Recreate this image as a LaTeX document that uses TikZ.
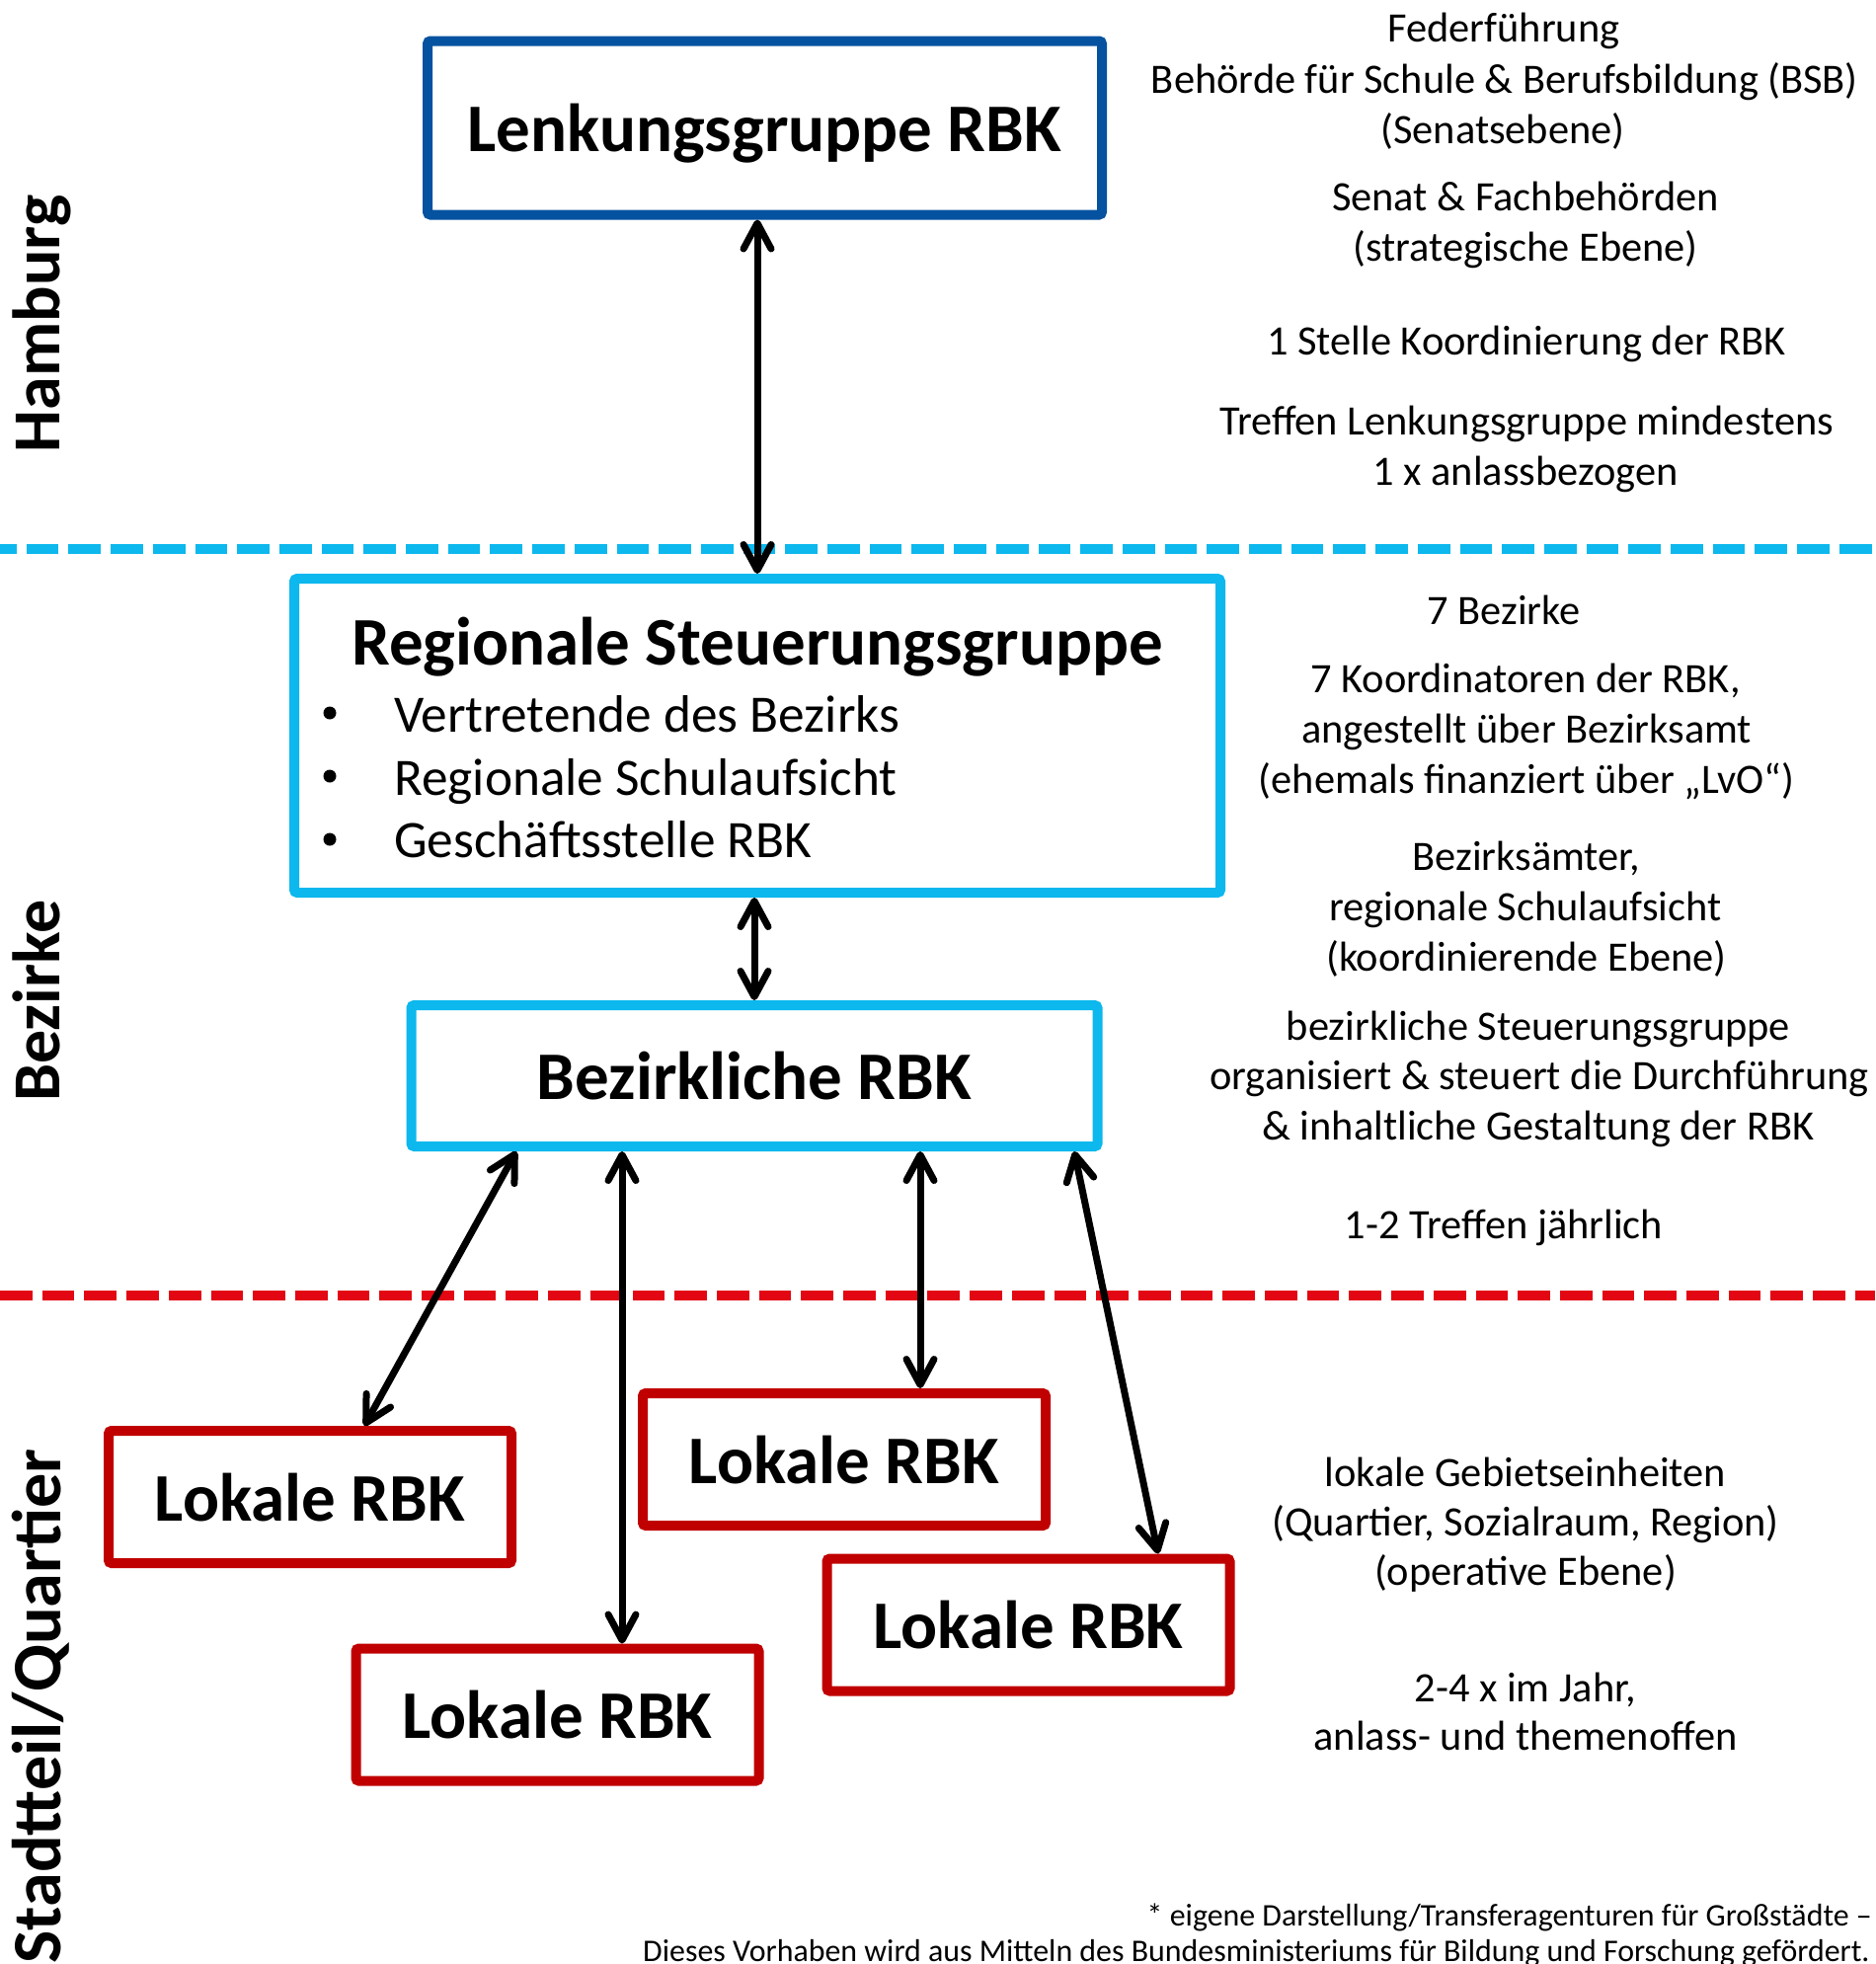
\documentclass[tikz,border=0pt]{standalone}
\usepackage{fontspec}
\setmainfont{Carlito}
\usetikzlibrary{arrows.meta,calc}
\definecolor{lgblue}{RGB}{4,82,160}
\definecolor{ltblue}{RGB}{12,184,237}
\definecolor{boxred}{RGB}{192,0,0}
\definecolor{linered}{RGB}{227,6,19}
\begin{document}
\begin{tikzpicture}[x=1pt,y=-1pt,
  box/.style={draw, line width=10pt, fill=white, inner sep=0pt, rounded corners=3pt,
    text depth=0pt, font=\fontsize{69}{80}\selectfont\bfseries},
  lbox/.style={box, draw=boxred, minimum width=408pt, minimum height=134pt},
  sepline/.style={line width=10.5pt, dash pattern=on 32.7pt off 10pt},
  arr/.style={line width=7pt, line cap=round,
    {Straight Barb[length=26pt,width=28pt,round]}-{Straight Barb[length=26pt,width=28pt,round]}},
  side/.style={font=\fontsize{42.4}{51}\selectfont, anchor=base, inner sep=0pt},
  bul/.style={font=\fontsize{53.3}{63}\selectfont, anchor=base west, inner sep=0pt},
  dot/.style={circle, fill=black, inner sep=0pt, minimum size=13pt},
  lvl/.style={font=\fontsize{68}{80}\selectfont\bfseries, rotate=90, inner sep=0pt},
  foot/.style={font=\fontsize{31.9}{38}\selectfont, anchor=base east, inner sep=0pt}
]
\useasboundingbox (0,0) rectangle (1899,1989);
\fill[white] (0,0) rectangle (1899,1989);

% level separators
\draw[sepline, ltblue, dash phase=16pt] (0,556) -- (1899,556);
\draw[sepline, linered] (0,1312) -- (1899,1312);

% boxes
\node[box, draw=lgblue, minimum width=683pt, minimum height=176pt] (LG) at (774.5,129.5) {Lenkungsgruppe RBK};
\node[box, draw=ltblue, minimum width=938pt, minimum height=318pt] (RS) at (767,745) {};
\node[font=\fontsize{69}{80}\selectfont\bfseries, anchor=base, inner sep=0pt] (RStitle) at (767,673) {Regionale Steuerungsgruppe};
\node[dot] (d1) at (334,722) {};
\node[dot] (d2) at (334,786) {};
\node[dot] (d3) at (334,850) {};
\node[bul] (b1) at (399,741) {Vertretende des Bezirks};
\node[bul] (b2) at (399,805) {Regionale Schulaufsicht};
\node[bul] (b3) at (399,868) {Geschäftsstelle RBK};
\node[box, draw=ltblue, minimum width=695pt, minimum height=143pt] (BZ) at (764,1089.5) {Bezirkliche RBK};
\node[lbox] (L1) at (314,1516) {Lokale RBK};
\node[lbox] (L2) at (855,1478) {Lokale RBK};
\node[lbox] (L3) at (564.5,1736.5) {Lokale RBK};
\node[lbox] (L4) at (1041.5,1645.5) {Lokale RBK};

% connectors
\draw[arr] (RS.north |- LG.south) -- (RS.north);
\draw[arr] (RS.south -| BZ.north) -- (BZ.north);
\draw[arr] ([xshift=-241pt]BZ.south) -- ([xshift=55pt]L1.north);
\draw[arr] ([xshift=-134pt]BZ.south) -- ([xshift=65.5pt]L3.north);
\draw[arr] ([xshift=168pt]BZ.south) -- ([xshift=77pt]L2.north);
\draw[arr] ([xshift=324pt]BZ.south) -- ([xshift=131.5pt]L4.north);

% level labels
\node[lvl, anchor=base] (hh) at (60,328) {Hamburg};
\node[lvl, anchor=base] (bzl) at (60,1013.5) {Bezirke};
\node[lvl, anchor=base east, font=\fontsize{70.2}{82}\selectfont\bfseries] (stq) at (61,1467) {Stadtteil/Quartier};

% right-hand descriptions
\node[side] (r1) at (1523,42) {Federführung};
\node[side] (r2) at (1524,94) {Behörde für Schule \& Berufsbildung (BSB)};
\node[side] (r3) at (1522,145) {(Senatsebene)};
\node[side] (r4) at (1545,213) {Senat \& Fachbehörden};
\node[side] (r5) at (1545,264) {(strategische Ebene)};
\node[side] (r6) at (1546,359) {1 Stelle Koordinierung der RBK};
\node[side] (r7) at (1546,440) {Treffen Lenkungsgruppe mindestens};
\node[side] (r8) at (1545,491) {1 x anlassbezogen};
\node[side] (r9) at (1523,632) {7 Bezirke};
\node[side] (r10) at (1545,701) {7 Koordinatoren der RBK,};
\node[side] (r11) at (1546,752) {angestellt über Bezirksamt};
\node[side] (r12) at (1546,803) {(ehemals finanziert über „LvO“)};
\node[side] (r13) at (1546,881) {Bezirksämter,};
\node[side] (r14) at (1545,932) {regionale Schulaufsicht};
\node[side] (r15) at (1546,983) {(koordinierende Ebene)};
\node[side] (r16) at (1558,1053) {bezirkliche Steuerungsgruppe};
\node[side] (r17) at (1559,1103) {organisiert \& steuert die Durchführung};
\node[side] (r18) at (1558,1154) {\& inhaltliche Gestaltung der RBK};
\node[side] (r19) at (1523,1254) {1-2 Treffen jährlich};
\node[side] (r20) at (1545,1505) {lokale Gebietseinheiten};
\node[side] (r21) at (1545,1555) {(Quartier, Sozialraum, Region)};
\node[side] (r22) at (1545,1605) {(operative Ebene)};
\node[side] (r23) at (1545,1723) {2-4 x im Jahr,};
\node[side] (r24) at (1545,1772) {anlass- und themenoffen};

% footnote
\node[foot] (f1) at (1896,1950) {* eigene Darstellung/Transferagenturen für Großstädte –};
\node[foot] (f2) at (1894,1986) {Dieses Vorhaben wird aus Mitteln des Bundesministeriums für Bildung und Forschung gefördert.};
\end{tikzpicture}
\end{document}
